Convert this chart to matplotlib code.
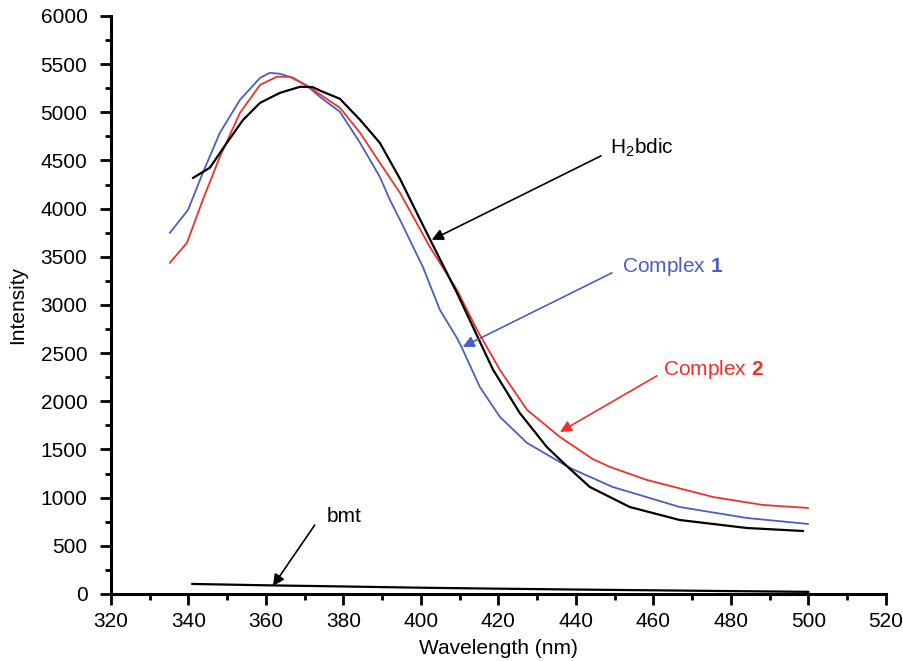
import matplotlib
matplotlib.use('Agg')
import matplotlib.pyplot as plt
import numpy as np

plt.rcParams['font.family'] = ['Liberation Sans', 'DejaVu Sans']
plt.rcParams['mathtext.fontset'] = 'custom'
plt.rcParams['mathtext.rm'] = 'Liberation Sans'
plt.rcParams['mathtext.bf'] = 'Liberation Sans:bold'

# values
wl_c1 = [335.2, 339.9, 343.7, 348.1, 353.3, 358.5, 361.0, 363.6, 367.0, 370.6, 374.1, 379.1,
         384.3, 389.4, 392.0, 394.6, 400.5, 404.9, 409.3, 410.6, 415.2, 420.4, 427.4, 438.5,
         449.5, 466.8, 484.1, 499.9]
int_c1 = [3749, 3988, 4372, 4787, 5130, 5358, 5410, 5400, 5358, 5275, 5155, 5005,
          4683, 4330, 4091, 3884, 3396, 2949, 2658, 2555, 2150, 1838, 1568, 1308,
          1111, 903, 789, 727]

wl_c2 = [335.2, 339.6, 343.7, 348.1, 353.3, 358.5, 362.8, 366.2, 370.6, 374.1, 379.1, 384.3,
         389.4, 394.6, 402.3, 409.3, 414.5, 420.4, 427.4, 435.9, 444.4, 448.8, 458.3, 475.4,
         488.3, 499.9]
int_c2 = [3438, 3645, 4091, 4538, 4995, 5286, 5369, 5369, 5275, 5182, 5047, 4787,
          4476, 4164, 3603, 3157, 2741, 2326, 1911, 1630, 1400, 1319, 1184, 1007,
          924, 893]

wl_h2 = [341.2, 345.5, 349.9, 354.1, 358.5, 363.6, 368.8, 372.0, 374.1, 379.1, 384.3, 389.4,
         394.6, 399.2, 402.8, 409.3, 412.6, 415.2, 418.6, 425.5, 432.5, 437.9, 443.6, 453.9,
         466.8, 484.1, 498.6]
int_h2 = [4320, 4424, 4683, 4922, 5099, 5202, 5265, 5262, 5223, 5140, 4922, 4683,
          4310, 3935, 3645, 3126, 2845, 2620, 2330, 1880, 1526, 1319, 1111, 903,
          768, 685, 654]

wl_bmt = [341, 360, 380, 400, 420, 440, 460, 480, 500]
int_bmt = [104, 90, 78, 65, 55, 46, 38, 30, 22]

fig = plt.figure(figsize=(9.04, 6.61), dpi=100)
ax = fig.add_axes([0.1228, 0.1014, 0.857, 0.8744])

ax.plot(wl_c1, int_c1, color='#4a5fc1', linewidth=1.3)
ax.plot(wl_c2, int_c2, color='#f0302a', linewidth=1.3)
ax.plot(wl_h2, int_h2, color='black', linewidth=1.6)
ax.plot(wl_bmt, int_bmt, color='black', linewidth=1.6)

ax.set_xlim(320, 520)
ax.set_ylim(0, 6000)
ax.set_xticks(np.arange(320, 521, 20))
ax.set_xticks(np.arange(330, 520, 20), minor=True)
ax.set_yticks(np.arange(0, 6001, 500))
ax.set_yticks(np.arange(250, 6000, 500), minor=True)

for s in ['top', 'right']:
    ax.spines[s].set_visible(False)
for s in ['left', 'bottom']:
    ax.spines[s].set_linewidth(2.2)
ax.tick_params(which='major', direction='out', length=8, width=2, labelsize=15)
ax.tick_params(which='minor', direction='out', length=4.5, width=2)
ax.tick_params(axis='x', which='major', pad=5)
ax.tick_params(axis='y', which='major', pad=9)

ax.set_xlabel('Wavelength (nm)', fontsize=15, labelpad=6)
ax.set_ylabel('Intensity', fontsize=15, labelpad=10)

arrow = dict(arrowstyle='-|>', lw=1.2, mutation_scale=17, shrinkA=0, shrinkB=0)

ax.annotate('', xy=(402.8, 3676), xytext=(446.5, 4548), arrowprops=dict(arrow, color='black'))
ax.text(448.8, 4630, r'H$_{\mathrm{2}}$bdic', fontsize=15, color='black', va='center', ha='left')

ax.annotate('', xy=(410.8, 2565), xytext=(449.3, 3333), arrowprops=dict(arrow, color='#4a5fc1'))
ax.text(451.9, 3396, r'Complex $\mathbf{1}$', fontsize=15, color='#4a5fc1', va='center', ha='left')

ax.annotate('', xy=(435.9, 1682), xytext=(460.9, 2264), arrowprops=dict(arrow, color='#f0302a'))
ax.text(462.5, 2326, r'Complex $\mathbf{2}$', fontsize=15, color='#f0302a', va='center', ha='left')

ax.annotate('', xy=(361.8, 83), xytext=(372.6, 716), arrowprops=dict(arrow, color='black'))
ax.text(375.7, 800, 'bmt', fontsize=15, color='black', va='center', ha='left')

fig.savefig('out.png', dpi=100)
